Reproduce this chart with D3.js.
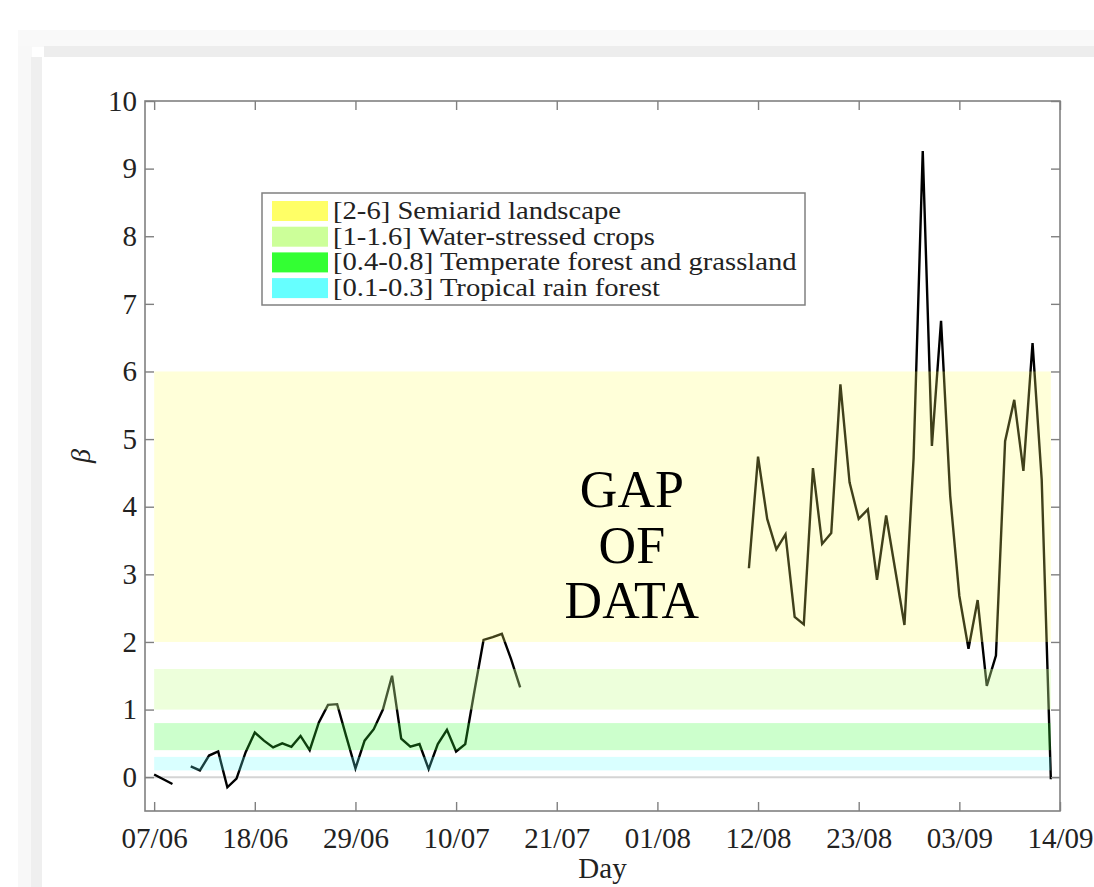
<!DOCTYPE html>
<html>
<head>
<meta charset="utf-8">
<script src="https://cdn.jsdelivr.net/npm/d3@7"></script>
<style>
  body { margin: 0; background: #fff; }
  svg { display: block; }
  text { font-family: "Liberation Serif", "DejaVu Serif", serif; fill: #222; }
</style>
</head>
<body>
<svg id="chart" width="1094" height="887"></svg>
<script>
// daily beta values, null = no data
var dates = [
  "2019-06-07","2019-06-08","2019-06-09","2019-06-10","2019-06-11","2019-06-12","2019-06-13",
  "2019-06-14","2019-06-15","2019-06-16","2019-06-17","2019-06-18","2019-06-19","2019-06-20",
  "2019-06-21","2019-06-22","2019-06-23","2019-06-24","2019-06-25","2019-06-26","2019-06-27",
  "2019-06-28","2019-06-29","2019-06-30","2019-07-01","2019-07-02","2019-07-03","2019-07-04",
  "2019-07-05","2019-07-06","2019-07-07","2019-07-08","2019-07-09","2019-07-10","2019-07-11",
  "2019-07-12","2019-07-13","2019-07-14","2019-07-15","2019-07-16","2019-07-17","2019-07-18",
  "2019-08-11","2019-08-12","2019-08-13","2019-08-14","2019-08-15","2019-08-16","2019-08-17",
  "2019-08-18","2019-08-19","2019-08-20","2019-08-21","2019-08-22","2019-08-23","2019-08-24",
  "2019-08-25","2019-08-26","2019-08-27","2019-08-28","2019-08-29","2019-08-30","2019-08-31",
  "2019-09-01","2019-09-02","2019-09-03","2019-09-04","2019-09-05","2019-09-06","2019-09-07",
  "2019-09-08","2019-09-09","2019-09-10","2019-09-11","2019-09-12","2019-09-13"
];
var beta = [
  0.04, -0.03, -0.10, null, 0.16, 0.10, 0.32,
  0.38, -0.15, -0.02, 0.37, 0.66, 0.54, 0.44,
  0.50, 0.45, 0.61, 0.40, 0.81, 1.07, 1.08,
  0.60, 0.13, 0.54, 0.71, 1.00, 1.50, 0.57,
  0.45, 0.49, 0.12, 0.49, 0.70, 0.38, 0.49,
  1.27, 2.03, 2.07, 2.12, 1.75, 1.33, null,
  3.09, 4.74, 3.82, 3.37, 3.59, 2.37, 2.26,
  4.57, 3.45, 3.61, 5.81, 4.36, 3.82, 3.96,
  2.92, 3.87, 3.06, 2.25, 4.72, 9.26, 4.90,
  6.75, 4.16, 2.68, 1.90, 2.62, 1.35, 1.80,
  4.97, 5.58, 4.53, 6.42, 4.40, -0.03
];

// reference ranges
var bandNames = ["[2-6] Semiarid landscape", "[1-1.6] Water-stressed crops",
                 "[0.4-0.8] Temperate forest and grassland", "[0.1-0.3] Tropical rain forest"];
var bandLow  = [2, 1, 0.4, 0.1];
var bandHigh = [6, 1.6, 0.8, 0.3];
var bandColors = ["#ffff66", "#ccff99", "#33ff33", "#66ffff"];

var xTickLabels = ["07/06","18/06","29/06","10/07","21/07","01/08","12/08","23/08","03/09","14/09"];
var yTicks = [0,1,2,3,4,5,6,7,8,9,10];
var gapText = ["GAP", "OF", "DATA"];

var svg = d3.select("#chart");
var parse = d3.timeParse("%Y-%m-%d");
var parseTick = d3.timeParse("%d/%m/%Y");

var data = dates.map(function(d, i) { return {date: parse(d), v: beta[i]}; });

// window frame bits around the figure
svg.append("rect").attr("x", 18).attr("y", 30).attr("width", 1076).attr("height", 17).attr("fill", "#f9f9f9");
svg.append("rect").attr("x", 44).attr("y", 46).attr("width", 1050).attr("height", 11).attr("fill", "#ededed");
svg.append("rect").attr("x", 18).attr("y", 46).attr("width", 14).attr("height", 841).attr("fill", "#f8f8f8");
svg.append("rect").attr("x", 31).attr("y", 57).attr("width", 11).attr("height", 830).attr("fill", "#efefef");

var margin = {left: 145, right: 1060, top: 101, bottom: 811};

var x = d3.scaleTime()
  .domain([new Date(2019, 5, 6), new Date(2019, 8, 14)])
  .range([margin.left, margin.right]);
var y = d3.scaleLinear()
  .domain([-0.5, 10])
  .range([margin.bottom, margin.top]);

var plot = svg.append("g");

// zero line
plot.append("line")
  .attr("x1", margin.left).attr("x2", margin.right)
  .attr("y1", y(0)).attr("y2", y(0))
  .attr("stroke", "#d4d4d4").attr("stroke-width", 2);

var line = d3.line()
  .defined(function(d) { return d.v !== null; })
  .x(function(d) { return x(d.date); })
  .y(function(d) { return y(d.v); });

plot.append("path")
  .datum(data)
  .attr("fill", "none")
  .attr("stroke", "#000")
  .attr("stroke-width", 2.4)
  .attr("stroke-linejoin", "miter")
  .attr("d", line);

// translucent bands over the line
var x0 = x(data[0].date), x1 = x(data[data.length - 1].date);
plot.selectAll("rect.band")
  .data(bandLow)
  .enter().append("rect")
  .attr("class", "band")
  .attr("x", x0)
  .attr("width", x1 - x0)
  .attr("y", function(d, i) { return y(bandHigh[i]); })
  .attr("height", function(d, i) { return y(bandLow[i]) - y(bandHigh[i]); })
  .attr("fill", function(d, i) { return bandColors[i]; })
  .attr("fill-opacity", function(d, i) { return i == 1 ? 0.35 : 0.25; });

// gap text
var gapX = x(new Date(2019, 6, 29, 5));
plot.selectAll("text.gap")
  .data(gapText)
  .enter().append("text")
  .attr("class", "gap")
  .attr("x", gapX)
  .attr("y", function(d, i) { return 507 + i * 55.5; })
  .attr("text-anchor", "middle")
  .attr("font-size", 52)
  .style("fill", "#000")
  .text(function(d) { return d; });

// axes, MATLAB style with inward ticks on all sides
var xTicks = xTickLabels.map(function(t) { return parseTick(t + "/2019"); });
var fmt = d3.timeFormat("%d/%m");

var axisColor = "#808080";
function styleAxis(g) {
  g.select(".domain").remove();
  g.selectAll(".tick line").attr("stroke", axisColor).attr("stroke-width", 1.4);
  g.selectAll(".tick text").attr("font-size", 29).style("font-family", "Liberation Serif").style("fill", "#222");
}

svg.append("g")
  .attr("transform", "translate(0," + margin.bottom + ")")
  .call(d3.axisBottom(x).tickValues(xTicks).tickFormat(fmt).tickSizeInner(-9).tickSizeOuter(0).tickPadding(16))
  .call(styleAxis);
svg.append("g")
  .attr("transform", "translate(0," + margin.top + ")")
  .call(d3.axisTop(x).tickValues(xTicks).tickFormat("").tickSizeInner(-9).tickSizeOuter(0))
  .call(styleAxis);
svg.append("g")
  .attr("transform", "translate(" + margin.left + ",0)")
  .call(d3.axisLeft(y).tickValues(yTicks).tickFormat(d3.format("d")).tickSizeInner(-9).tickSizeOuter(0).tickPadding(8))
  .call(styleAxis);
svg.append("g")
  .attr("transform", "translate(" + margin.right + ",0)")
  .call(d3.axisRight(y).tickValues(yTicks).tickFormat("").tickSizeInner(-9).tickSizeOuter(0))
  .call(styleAxis);

svg.append("rect")
  .attr("x", margin.left).attr("y", margin.top)
  .attr("width", margin.right - margin.left)
  .attr("height", margin.bottom - margin.top)
  .attr("fill", "none")
  .attr("stroke", axisColor)
  .attr("stroke-width", 1.6);

// axis titles
svg.append("text")
  .attr("x", (margin.left + margin.right) / 2)
  .attr("y", 878)
  .attr("text-anchor", "middle")
  .attr("font-size", 29)
  .text("Day");
svg.append("text")
  .attr("transform", "translate(90," + y(4.75) + ") rotate(-90)")
  .attr("text-anchor", "middle")
  .attr("font-size", 28)
  .attr("font-style", "italic")
  .text("β");

// legend
var lg = svg.append("g").attr("transform", "translate(262,193)");
lg.append("rect")
  .attr("width", 543).attr("height", 112)
  .attr("fill", "#fff")
  .attr("stroke", axisColor)
  .attr("stroke-width", 1.5);
var items = lg.selectAll("g.item")
  .data(bandNames)
  .enter().append("g")
  .attr("class", "item")
  .attr("transform", function(d, i) { return "translate(0," + (8 + i * 25.7) + ")"; });
items.append("rect")
  .attr("x", 10).attr("width", 56).attr("height", 20)
  .attr("fill", function(d, i) { return bandColors[i]; });
var labels = items.append("text")
  .attr("y", 18)
  .attr("font-size", 25)
  .text(function(d) { return d; });
// stretch the legend text sideways so the longest entry fits the box like the original
var widest = d3.max(labels.nodes(), function(n) { return n.getComputedTextLength(); });
var k = 464 / widest;
labels.attr("transform", "translate(71,0) scale(" + k + ",1)");
</script>
</body>
</html>
